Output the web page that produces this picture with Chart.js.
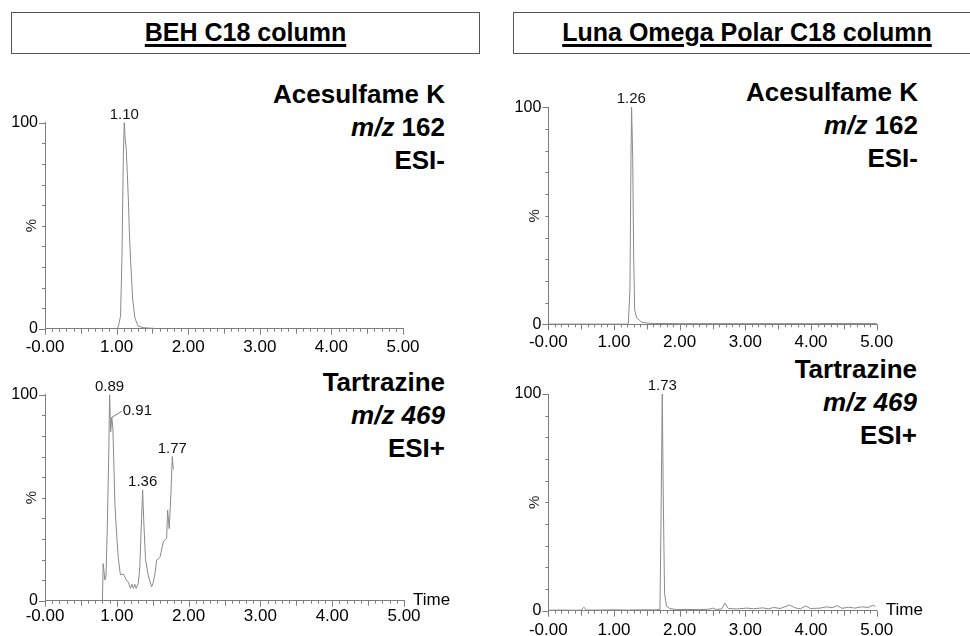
<!DOCTYPE html>
<html>
<head>
<meta charset="utf-8">
<script src="https://cdn.jsdelivr.net/npm/chart.js@4.4.1/dist/chart.umd.min.js"></script>
<style>
  html, body { margin: 0; padding: 0; background: #fff; }
  body { width: 970px; height: 636px; position: relative; overflow: hidden; font-family: "Liberation Sans", Arial, sans-serif; }
  canvas { position: absolute; left: 0; top: 0; }
  .head { position: absolute; top: 12px; height: 42px; box-sizing: border-box; border: 1px solid #555;
          text-align: center; line-height: 38px; font-size: 25px; font-weight: bold; }
  .head span { text-decoration: underline; text-decoration-thickness: 3px; text-underline-offset: 3px; }
  .cmpd { position: absolute; width: 300px; text-align: right; font-size: 26px; font-weight: bold; line-height: 33px; color: #000; }
</style>
</head>
<body>
<div class="head" style="left:11px;width:469px"><span>BEH C18 column</span></div>
<div class="head" style="left:513px;width:468px"><span>Luna Omega Polar C18 column</span></div>

<div class="cmpd" style="left:145px;top:78px">Acesulfame K<br><i>m/z</i> 162<br>ESI-</div>
<div class="cmpd" style="left:145px;top:366px">Tartrazine<br><i>m/z 469</i><br>ESI+</div>
<div class="cmpd" style="left:618px;top:76px">Acesulfame K<br><i>m/z</i> 162<br>ESI-</div>
<div class="cmpd" style="left:617px;top:353px">Tartrazine<br><i>m/z 469</i><br>ESI+</div>

<canvas id="behAce" width="970" height="636"></canvas>
<canvas id="behTar" width="970" height="636"></canvas>
<canvas id="lunaAce" width="970" height="636"></canvas>
<canvas id="lunaTar" width="970" height="636"></canvas>

<script>
// axis labels
const xTickLabels = ['-0.00', '1.00', '2.00', '3.00', '4.00', '5.00'];
const yTickLabels = ['0', '100'];

// BEH C18, acesulfame K (m/z 162, ESI-)
const behAceTime = [1.00, 1.02, 1.055, 1.075, 1.094, 1.107, 1.12, 1.135, 1.15, 1.165, 1.18, 1.197, 1.225, 1.257, 1.30, 1.37, 1.45, 1.52];
const behAcePct  = [0, 0.5, 6, 35, 84, 100, 92, 87, 75, 62, 45, 32, 14, 5, 1.3, 0.5, 0.3, 0.2];
const behAcePeakTime = [1.107];
const behAcePeakPct  = [100];
const behAcePeakText = ['1.10'];

// BEH C18, tartrazine (m/z 469, ESI+)
const behTarTime = [0.80, 0.81, 0.835, 0.85, 0.868, 0.89, 0.90, 0.915, 0.93, 0.945, 0.96, 0.975, 1.00, 1.02, 1.05, 1.09, 1.135,
                    1.16, 1.19, 1.21, 1.23, 1.25, 1.27, 1.30, 1.32, 1.345, 1.36, 1.375, 1.40, 1.44, 1.485, 1.51, 1.535, 1.555,
                    1.60, 1.648, 1.694, 1.708, 1.73, 1.754, 1.773, 1.787];
const behTarPct  = [0, 18, 10, 12, 36, 75, 100, 82, 89, 84, 65, 46, 31, 21, 12.5, 13, 10,
                    9, 6, 8, 6, 8, 6, 8.5, 16, 40, 53.7, 39, 20, 12, 6.8, 9, 14, 19.7,
                    21, 28.6, 30.3, 44, 35, 52, 70, 63.7];
const behTarPeakTime = [0.90, 0.93, 1.36, 1.773];
const behTarPeakPct  = [100, 89, 53.7, 70];
const behTarPeakText = ['0.89', '0.91', '1.36', '1.77'];

// Luna Omega Polar C18, acesulfame K
const lunaAceTime = [0, 0.5, 1.0, 1.2, 1.218, 1.243, 1.259, 1.268, 1.285, 1.30, 1.315, 1.345, 1.42, 1.55, 2.0, 2.5, 3.0, 3.5, 4.0, 4.5, 5.0];
const lunaAcePct  = [0.1, 0.1, 0.1, 0.1, 0.3, 15.8, 77, 100, 77, 31, 6.6, 3, 1, 0.4, 0.3, 0.3, 0.3, 0.3, 0.3, 0.4, 0.4];
const lunaAcePeakTime = [1.264];
const lunaAcePeakPct  = [100];
const lunaAcePeakText = ['1.26'];

// Luna Omega Polar C18, tartrazine
const lunaTarTime = [0, 0.2, 0.4, 0.5, 0.543, 0.58, 0.8, 1.0, 1.2, 1.4, 1.6, 1.70, 1.715, 1.735, 1.75, 1.77, 1.80, 1.85, 1.95,
                     2.1, 2.3, 2.45, 2.50, 2.55, 2.64, 2.69, 2.74, 2.87, 3.02, 3.12, 3.27, 3.35, 3.43, 3.53, 3.67, 3.76,
                     3.84, 3.92, 3.99, 4.14, 4.24, 4.32, 4.40, 4.47, 4.57, 4.67, 4.77, 4.87, 4.94, 4.98];
const lunaTarPct  = [0.2, 0.3, 0.2, 0.3, 1.6, 0.3, 0.3, 0.4, 0.3, 0.4, 0.4, 0.5, 39, 100, 54, 8, 2, 1, 0.5,
                     0.6, 0.5, 0.7, 1.2, 0.6, 0.8, 3.5, 1.0, 0.8, 1.2, 0.9, 1.3, 0.8, 1.5, 1.0, 2.6, 1.3,
                     0.9, 2.2, 1.0, 1.2, 1.8, 1.4, 2.3, 1.1, 1.6, 1.2, 1.8, 1.5, 2.5, 2.0];
const lunaTarPeakTime = [1.735];
const lunaTarPeakPct  = [100];
const lunaTarPeakText = ['1.73'];

const AXIS = '#7d7d7d';
const TRACE = '#8a8a8a';
const Y_AXIS_W = 45;
const X_AXIS_H = 25;
Chart.defaults.font.family = '"Liberation Sans", Arial, sans-serif';
Chart.defaults.color = '#000';

// minor ticks, % label, Time label and peak labels
const chromDecor = {
    id: 'chromDecor',
    afterDraw(chart, args, opts) {
        const ctx = chart.ctx;
        const xs = chart.scales.x, ys = chart.scales.y;
        const a = chart.chartArea;
        ctx.save();
        ctx.strokeStyle = AXIS;
        ctx.lineWidth = 1;
        ctx.beginPath();
        for (let i = 0; i <= 50; i++) {
            const px = Math.round(xs.getPixelForValue(i / 10)) + 0.5;
            const len = i % 10 === 0 ? 6 : (i % 5 === 0 ? 5 : 3);
            ctx.moveTo(px, a.bottom);
            ctx.lineTo(px, a.bottom + len);
        }
        for (let j = 0; j <= 10; j++) {
            const py = Math.round(ys.getPixelForValue(j * 10)) + 0.5;
            const len = (j === 0 || j === 10) ? 6 : 3;
            ctx.moveTo(a.left - len, py);
            ctx.lineTo(a.left, py);
        }
        ctx.stroke();

        ctx.fillStyle = '#222';
        ctx.font = '15px "Liberation Sans", Arial';
        ctx.textAlign = 'center';
        ctx.textBaseline = 'middle';
        ctx.save();
        ctx.translate(a.left - 13, (a.top + a.bottom) / 2);
        ctx.rotate(-Math.PI / 2);
        ctx.fillText('%', 0, 0);
        ctx.restore();

        if (opts.time) {
            ctx.font = '17px "Liberation Sans", Arial';
            ctx.textAlign = 'left';
            ctx.fillStyle = '#000';
            ctx.fillText('Time', a.right + 9, a.bottom);
        }

        ctx.font = '15px "Liberation Sans", Arial';
        ctx.fillStyle = '#111';
        opts.text.forEach((txt, k) => {
            const px = xs.getPixelForValue(opts.time_[k]);
            const py = ys.getPixelForValue(opts.pct[k]);
            if ((opts.leader || []).includes(k)) {
                ctx.beginPath();
                ctx.strokeStyle = '#777';
                ctx.moveTo(px, py);
                ctx.lineTo(px + 10, py - 6);
                ctx.stroke();
                ctx.textAlign = 'left';
                ctx.textBaseline = 'middle';
                ctx.fillText(txt, px + 11, py - 7);
            } else {
                ctx.textAlign = 'center';
                ctx.textBaseline = 'alphabetic';
                ctx.fillText(txt, px, py - 4);
            }
        });
        ctx.restore();
    }
};

// area = chart area edges in page pixels
function makePanel(id, times, pcts, peaks, area, tickPad, showTime, leader) {
    const pts = times.map((t, i) => ({ x: t, y: pcts[i] }));
    const pad = {
        left: area.left - Y_AXIS_W,
        top: area.top,
        right: 970 - area.right,
        bottom: Math.max(636 - area.bottom - X_AXIS_H, 0)
    };
    return new Chart(document.getElementById(id), {
        type: 'scatter',
        data: {
            datasets: [{
                data: pts,
                showLine: true,
                borderColor: TRACE,
                borderWidth: 1,
                pointRadius: 0,
                tension: 0,
                clip: 3
            }]
        },
        options: {
            responsive: false,
            animation: false,
            events: [],
            layout: { padding: pad },
            plugins: {
                legend: { display: false },
                tooltip: { enabled: false },
                chromDecor: { time_: peaks[0], pct: peaks[1], text: peaks[2], time: showTime, leader: leader }
            },
            scales: {
                x: {
                    type: 'linear', min: 0, max: 5,
                    grid: { display: false, drawTicks: false },
                    border: { display: true, color: AXIS, width: 1 },
                    ticks: {
                        stepSize: 1, autoSkip: false, maxRotation: 0, padding: tickPad,
                        font: { size: 17 }, color: '#000',
                        callback: (v, i) => xTickLabels[i]
                    },
                    afterFit: s => { s.height = Math.min(X_AXIS_H, 636 - area.bottom); }
                },
                y: {
                    type: 'linear', min: 0, max: 100,
                    grid: { display: false, drawTicks: false },
                    border: { display: true, color: AXIS, width: 1 },
                    ticks: {
                        stepSize: 100, padding: 7, font: { size: 16 }, color: '#000',
                        callback: (v, i) => yTickLabels[i]
                    },
                    afterFit: s => { s.width = Y_AXIS_W; }
                }
            }
        },
        plugins: [chromDecor]
    });
}

makePanel('behAce', behAceTime, behAcePct, [behAcePeakTime, behAcePeakPct, behAcePeakText],
    { left: 45, top: 122.7, right: 403, bottom: 328.7 }, 8, false, []);
makePanel('behTar', behTarTime, behTarPct, [behTarPeakTime, behTarPeakPct, behTarPeakText],
    { left: 45, top: 394.7, right: 404, bottom: 600.7 }, 5, true, [1]);
makePanel('lunaAce', lunaAceTime, lunaAcePct, [lunaAcePeakTime, lunaAcePeakPct, lunaAcePeakText],
    { left: 548.3, top: 107.3, right: 876.7, bottom: 324.3 }, 8, false, []);
makePanel('lunaTar', lunaTarTime, lunaTarPct, [lunaTarPeakTime, lunaTarPeakPct, lunaTarPeakText],
    { left: 548.3, top: 394, right: 876.7, bottom: 610.7 }, 9, true, []);
</script>
</body>
</html>
